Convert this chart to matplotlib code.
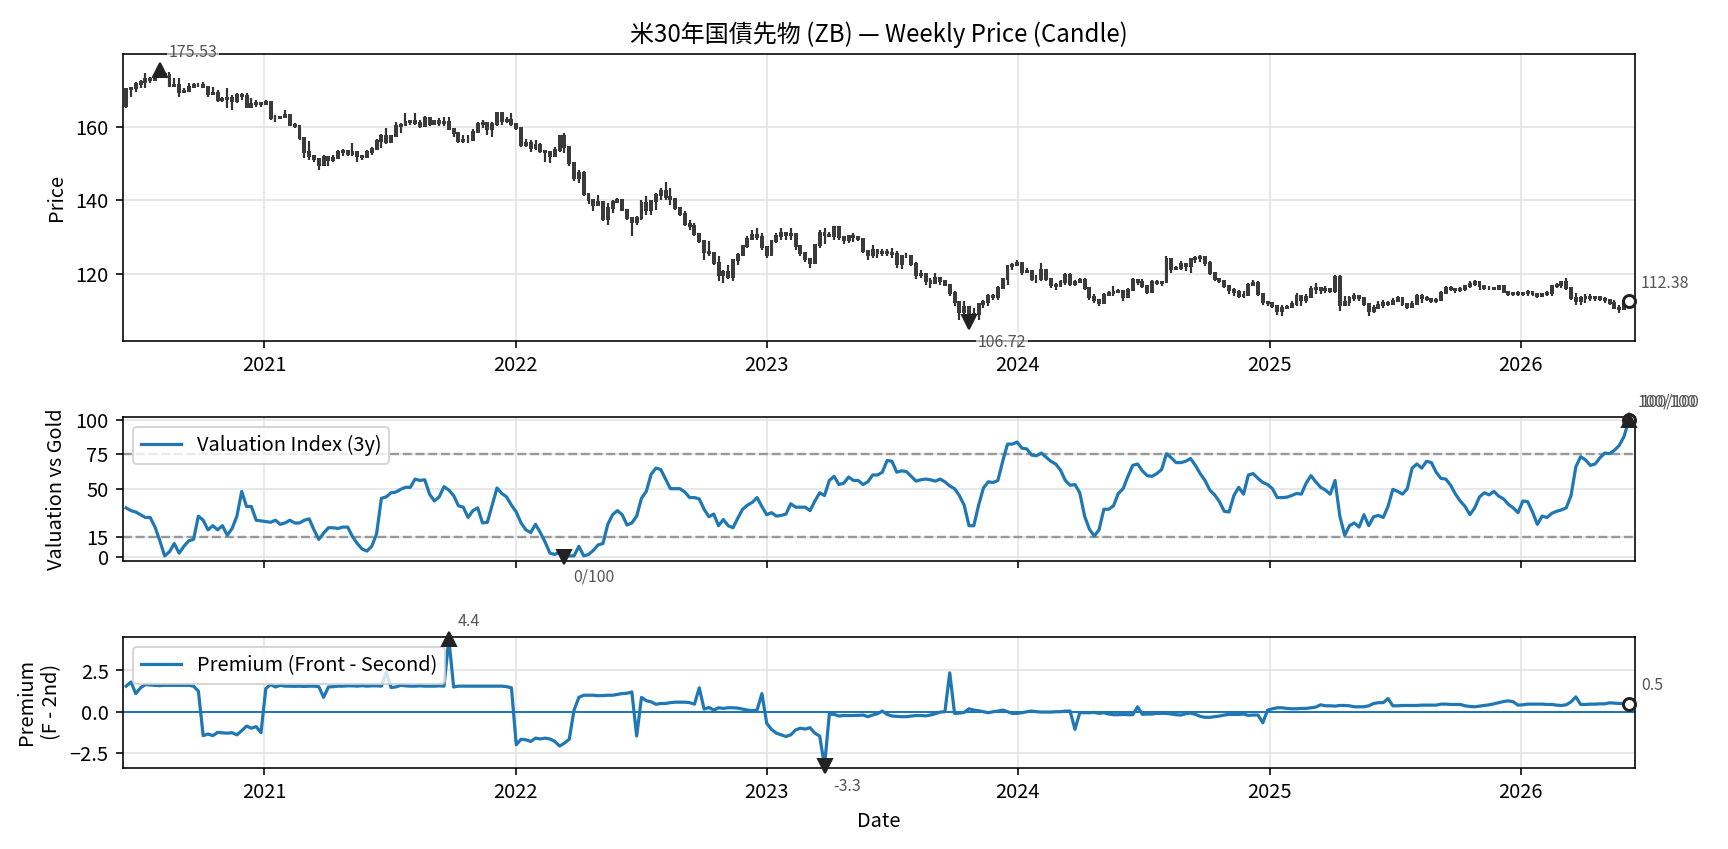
import numpy as np
import pandas as pd
import matplotlib
matplotlib.use('Agg')
import matplotlib.pyplot as plt
import matplotlib.dates as mdates

plt.rcParams['font.family'] = ['Noto Sans CJK JP', 'DejaVu Sans']
plt.rcParams['font.size'] = 10

# weekly ZB candles, open of week = previous close
first_open = 165.8
closes = [
    170.3, 170.6, 171.8, 172.3, 173.2, 173.0, 174.0, 174.6, 174.2, 171.3,
    171.4, 169.5, 170.0, 171.0, 171.4, 171.6, 171.0, 169.0, 169.3, 167.4,
    167.6, 168.0, 167.2, 168.9, 168.6, 165.6, 166.4, 166.6, 166.2, 166.9,
    162.6, 162.4, 162.8, 163.3, 160.6, 160.2, 157.0, 153.3, 152.2, 151.3,
    149.8, 151.8, 151.0, 151.6, 153.2, 153.5, 152.8, 153.3, 152.0, 151.8,
    153.1, 154.0, 156.2, 157.6, 156.0, 157.6, 160.3, 160.6, 161.3, 161.6,
    161.2, 160.4, 162.6, 161.0, 161.6, 161.2, 161.4, 159.6, 158.4, 156.3,
    156.6, 156.4, 158.6, 160.8, 161.2, 159.6, 160.8, 163.8, 161.6, 162.0,
    160.8, 159.7, 155.2, 155.8, 154.2, 155.0, 153.5, 153.2, 152.0, 153.8,
    157.5, 154.5, 150.3, 146.0, 147.5, 141.8, 140.0, 138.8, 139.6, 135.0,
    137.8, 139.6, 140.2, 137.5, 135.2, 134.0, 135.2, 139.2, 137.5, 139.8,
    141.6, 142.5, 141.0, 140.5, 138.0, 136.2, 133.5, 133.0, 130.8, 129.0,
    126.0, 125.6, 123.0, 119.5, 120.5, 119.2, 123.6, 125.2, 127.5, 129.5,
    130.6, 130.0, 127.2, 125.0, 128.8, 130.2, 131.0, 130.5, 130.8, 127.5,
    125.5, 124.0, 123.0, 127.8, 131.0, 130.5, 130.4, 132.6, 130.0, 129.2,
    130.3, 130.0, 129.4, 126.2, 125.0, 126.5, 125.5, 125.8, 125.6, 125.4,
    122.5, 124.8, 124.8, 122.6, 119.5, 120.0, 117.9, 117.4, 118.8, 118.0,
    117.0, 114.6, 112.2, 109.5, 111.0, 108.5, 109.0, 111.8, 112.3, 113.9,
    113.5, 116.0, 118.5, 122.0, 122.3, 123.0, 120.5, 120.8, 118.6, 118.4,
    121.0, 118.5, 116.8, 116.5, 117.8, 119.7, 117.2, 117.6, 118.2, 116.0,
    113.6, 112.8, 112.0, 114.2, 114.6, 115.0, 115.2, 113.5, 115.6, 118.3,
    117.8, 116.6, 115.0, 117.6, 117.4, 117.8, 124.0, 121.2, 121.6, 122.5,
    122.0, 123.9, 124.2, 124.6, 122.8, 120.2, 118.6, 118.0, 116.6, 115.4,
    115.0, 114.0, 114.2, 117.0, 117.4, 114.3, 112.3, 112.1, 111.2, 109.8,
    110.6, 111.0, 111.8, 113.8, 112.8, 113.6, 115.8, 116.0, 115.5, 115.8,
    115.2, 119.0, 111.5, 112.2, 113.2, 114.0, 113.2, 111.8, 109.8, 110.6,
    111.5, 112.0, 111.6, 112.6, 113.2, 111.6, 110.8, 111.8, 113.8, 113.2,
    113.0, 112.6, 112.8, 114.8, 116.0, 115.8, 115.4, 115.9, 116.6, 117.2,
    117.6, 116.5, 116.2, 116.0, 115.8, 116.6, 115.0, 114.4, 114.6, 114.5,
    114.7, 115.0, 114.4, 114.0, 114.4, 114.6, 116.6, 117.0, 117.6, 116.0,
    113.3, 112.5, 113.2, 113.6, 113.4, 113.5, 113.0, 112.8, 112.0, 110.6,
    110.2, 111.6, 112.38,
]
highs = [
    170.6, 171.1, 172.4, 172.9, 174.7, 173.8, 174.7, 175.53, 174.7, 175.2,
    173.3, 173.3, 170.6, 172.0, 172.0, 172.2, 172.4, 171.1, 171.1, 170.2,
    168.3, 170.6, 168.8, 169.3, 169.3, 169.3, 167.9, 167.4, 167.0, 167.4,
    167.0, 163.3, 163.1, 164.7, 163.3, 161.1, 159.7, 157.0, 156.1, 152.0,
    151.5, 152.4, 151.5, 152.4, 153.8, 154.0, 153.8, 155.6, 153.4, 152.4,
    153.8, 154.5, 156.7, 158.1, 159.7, 157.9, 161.5, 161.1, 163.8, 162.0,
    163.8, 162.0, 163.1, 162.4, 162.0, 162.4, 162.9, 162.7, 159.4, 158.8,
    157.9, 157.9, 159.4, 161.5, 162.0, 160.6, 161.5, 164.2, 164.2, 162.9,
    163.8, 161.1, 160.0, 156.7, 156.5, 156.5, 155.8, 153.3, 153.3, 154.7,
    157.9, 158.3, 153.8, 150.6, 148.3, 147.9, 141.8, 139.4, 141.5, 138.8,
    139.3, 140.2, 140.6, 140.4, 137.7, 135.2, 135.6, 140.2, 141.1, 140.2,
    142.0, 143.3, 144.9, 143.3, 140.2, 137.9, 137.0, 134.7, 133.8, 131.1,
    128.8, 128.8, 125.6, 124.7, 121.1, 122.4, 124.0, 125.6, 127.9, 130.2,
    132.0, 132.4, 131.1, 127.4, 129.3, 131.1, 132.4, 131.5, 132.4, 130.2,
    127.4, 125.6, 124.3, 128.2, 132.0, 132.4, 131.3, 133.1, 132.2, 129.7,
    130.6, 131.1, 130.2, 129.4, 126.1, 127.9, 126.7, 126.7, 126.7, 127.0,
    126.1, 125.2, 125.6, 125.2, 123.1, 121.1, 119.4, 118.8, 120.2, 118.8,
    118.3, 117.0, 115.2, 112.0, 112.4, 111.0, 110.5, 112.0, 112.9, 114.3,
    114.3, 116.5, 118.8, 122.4, 122.9, 123.8, 122.9, 121.5, 121.1, 119.7,
    122.9, 120.2, 118.3, 117.4, 118.3, 120.2, 120.2, 118.3, 118.8, 118.8,
    116.1, 114.3, 112.9, 114.7, 115.2, 116.5, 115.8, 115.6, 116.1, 118.8,
    118.5, 118.5, 117.0, 118.3, 118.3, 117.9, 124.7, 123.8, 122.0, 123.4,
    122.9, 124.3, 124.9, 125.2, 123.4, 123.4, 120.2, 118.8, 117.9, 116.5,
    116.1, 115.6, 115.2, 117.4, 118.3, 117.9, 114.3, 112.0, 111.5, 111.1,
    111.3, 111.5, 112.4, 114.7, 113.8, 114.3, 116.5, 117.4, 116.1, 116.5,
    116.1, 119.7, 119.7, 113.8, 113.8, 114.7, 113.8, 112.4, 111.5, 111.5,
    112.4, 112.9, 112.4, 113.3, 113.8, 112.4, 111.5, 112.4, 114.3, 114.3,
    113.8, 113.3, 113.3, 115.2, 116.7, 116.5, 115.8, 116.3, 117.0, 117.9,
    118.3, 117.4, 116.5, 116.5, 116.3, 117.0, 116.5, 114.7, 114.9, 115.2,
    114.9, 115.6, 115.2, 114.7, 114.7, 115.2, 117.0, 117.4, 117.9, 118.8,
    116.1, 114.7, 113.8, 114.3, 114.3, 114.0, 113.6, 113.6, 112.9, 112.9,
    111.5, 112.4, 112.9,
]
lows = [
    165.2, 168.3, 169.7, 170.6, 170.6, 172.2, 172.9, 173.5, 173.8, 171.1,
    171.1, 168.3, 169.3, 170.2, 171.1, 171.1, 170.6, 168.3, 168.8, 167.0,
    167.0, 165.2, 164.7, 166.5, 167.4, 165.2, 165.2, 165.6, 165.6, 166.1,
    162.0, 161.5, 162.2, 162.4, 160.2, 159.7, 156.5, 151.5, 151.1, 150.6,
    148.3, 149.7, 149.3, 150.6, 151.5, 152.0, 152.0, 152.0, 150.6, 151.1,
    152.4, 152.4, 154.3, 154.3, 155.4, 155.6, 157.4, 158.3, 160.6, 160.6,
    160.6, 159.7, 161.5, 160.2, 161.1, 160.2, 160.3, 159.3, 157.3, 155.6,
    155.6, 155.6, 156.1, 158.8, 159.7, 157.9, 157.4, 160.2, 160.6, 161.1,
    160.2, 159.3, 154.7, 154.7, 153.1, 153.8, 152.9, 150.6, 150.3, 151.8,
    153.3, 152.9, 149.3, 145.2, 144.7, 141.1, 139.1, 137.0, 138.4, 134.3,
    133.4, 136.5, 139.7, 137.0, 134.7, 130.2, 133.4, 134.7, 136.1, 136.1,
    137.4, 140.2, 140.0, 138.8, 137.4, 135.6, 132.9, 132.0, 130.2, 128.3,
    123.8, 124.7, 122.4, 117.9, 117.4, 118.4, 117.9, 122.4, 124.9, 127.0,
    129.3, 129.3, 126.5, 124.3, 125.2, 128.3, 129.3, 129.3, 129.3, 126.5,
    124.7, 123.3, 121.5, 123.3, 127.0, 128.2, 130.2, 129.3, 129.3, 128.2,
    128.3, 128.5, 128.8, 125.6, 123.8, 124.3, 124.3, 124.7, 124.7, 124.3,
    121.5, 121.3, 124.3, 122.0, 118.4, 118.8, 117.0, 116.1, 117.9, 117.0,
    116.5, 113.8, 111.1, 107.4, 108.3, 106.72, 107.5, 107.4, 110.6, 111.1,
    112.9, 112.9, 116.5, 117.0, 121.1, 122.0, 119.7, 120.2, 117.9, 117.4,
    117.9, 117.9, 116.1, 115.6, 116.5, 117.0, 116.5, 116.5, 117.4, 115.6,
    112.9, 112.0, 111.1, 112.0, 113.8, 113.8, 114.7, 112.4, 113.8, 115.6,
    117.0, 116.1, 114.3, 116.1, 117.0, 116.5, 117.4, 120.2, 121.1, 121.1,
    120.6, 120.2, 122.9, 123.3, 122.0, 119.7, 117.9, 117.4, 116.1, 114.3,
    113.8, 113.3, 113.3, 114.7, 116.5, 113.8, 111.5, 111.1, 110.6, 108.8,
    108.3, 110.6, 111.1, 111.1, 111.1, 112.0, 113.3, 114.3, 114.3, 114.7,
    114.7, 114.7, 109.7, 111.1, 111.1, 112.4, 112.4, 111.1, 108.3, 109.3,
    110.2, 110.6, 111.1, 111.5, 112.4, 111.1, 110.2, 111.1, 112.4, 112.0,
    112.4, 112.0, 112.0, 112.4, 115.2, 115.2, 114.7, 114.9, 115.2, 116.1,
    116.5, 115.6, 115.6, 115.4, 115.4, 116.1, 114.7, 113.8, 114.0, 113.8,
    114.0, 114.0, 113.8, 113.3, 113.8, 113.8, 113.8, 116.1, 116.1, 115.6,
    112.9, 111.5, 111.5, 112.0, 112.4, 112.4, 112.4, 112.0, 111.5, 110.2,
    109.3, 111.1, 111.5,
]

# valuation index vs gold (0-100, 3y window)
valuation = [
    36, 34, 33, 31, 29, 29, 22, 12, 1, 4,
    10, 3, 8, 12, 13, 30, 27, 20, 23, 20,
    23, 16, 21, 30, 48, 37, 37, 27, 26.5, 26,
    25.5, 27, 24, 25, 27, 25, 25, 27, 28, 20,
    13, 17.5, 21.5, 21.5, 21, 22, 22, 15, 10, 6,
    4.5, 8, 17, 43, 44, 47, 47.5, 49.5, 51, 51,
    57, 56, 56.5, 46, 41, 44, 51.5, 49, 45, 37.5,
    36.5, 29, 34, 36, 25, 25.5, 38, 50.5, 46.5, 44,
    38, 33, 25, 20, 18, 24, 18, 11, 3, 2,
    4, 0, 1, 1, 8, 1, 2, 5, 9, 10,
    24, 31, 34, 31, 23.5, 25, 30, 43, 48, 60.5,
    65, 64, 57, 50, 50, 50, 47.5, 43.5, 43.5, 42.5,
    35, 29.5, 31.5, 23, 27.5, 23, 21.5, 28.5, 35, 38,
    40, 43.5, 37, 31, 32.5, 30, 30.5, 31.5, 39, 36.5,
    36.5, 36.5, 34, 41, 47, 45, 56, 59, 53, 54,
    58.5, 56, 56, 53, 55, 60, 60, 62, 70.5, 70,
    62, 63, 62.5, 59, 55.5, 56.5, 57, 56.5, 55.5, 57,
    55, 52, 50, 45, 38, 23, 23, 38, 50.5, 55,
    54.5, 56, 70, 82.5, 82.5, 84, 79.5, 79, 74.5, 74,
    76, 73, 70, 68, 63.5, 56, 52.5, 53, 47, 30,
    20.5, 15.5, 20, 35, 35, 37.5, 46.5, 50, 59, 67,
    68, 63, 59.5, 59, 61, 64, 75.5, 72.5, 69, 69,
    70, 72, 67, 61, 56, 49, 45.5, 40.5, 33.5, 33,
    45, 51, 46, 60, 61, 57.5, 54.5, 53, 50, 43.5,
    43.5, 43.8, 45, 46.5, 46, 54, 59.5, 55, 51, 49,
    46, 56, 30, 16, 23, 25, 22, 31, 23, 29.5,
    30.5, 29, 37, 49.5, 48, 46, 50, 65, 68, 65,
    70, 69, 62, 57.5, 57, 52.5, 46, 41, 37, 31,
    36, 44, 47, 45.5, 48, 44.5, 42.5, 38.5, 36, 32.5,
    41, 40.5, 33, 24, 30, 29, 32, 33.5, 34.5, 36,
    45, 66, 73.3, 71, 67, 68, 72.5, 76, 75.5, 78,
    81.5, 88, 100,
]

# front - second month premium
premium = [
    1.55, 1.8, 1.1, 1.45, 1.65, 1.62, 1.6, 1.58, 1.6, 1.6,
    1.6, 1.6, 1.6, 1.6, 1.55, 1.25, -1.45, -1.35, -1.45, -1.25,
    -1.28, -1.3, -1.27, -1.4, -1.15, -0.87, -1.0, -0.9, -1.27, 1.4,
    1.65, 1.5, 1.6, 1.55, 1.55, 1.54, 1.55, 1.53, 1.55, 1.55,
    1.52, 0.87, 1.5, 1.52, 1.55, 1.55, 1.57, 1.57, 1.55, 1.58,
    1.55, 1.57, 1.57, 1.55, 2.4, 1.47, 1.5, 1.6, 1.57, 1.55,
    1.55, 1.57, 1.55, 1.55, 1.55, 1.57, 1.55, 4.4, 1.5, 1.55,
    1.55, 1.55, 1.55, 1.55, 1.55, 1.55, 1.55, 1.55, 1.55, 1.52,
    1.45, -2.0, -1.67, -1.7, -1.8, -1.6, -1.65, -1.6, -1.65, -1.8,
    -2.08, -1.9, -1.67, 0.1, 0.87, 1.0, 1.0, 1.0, 0.97, 0.98,
    1.0, 1.0, 1.05, 1.1, 1.12, 1.2, -1.47, 0.87, 0.67, 0.6,
    0.45, 0.5, 0.5, 0.55, 0.58, 0.58, 0.58, 0.55, 0.46, 1.45,
    0.16, 0.26, 0.1, 0.24, 0.2, 0.24, 0.24, 0.22, 0.16, 0.1,
    0.06, 0.1, 1.1, -0.7, -1.07, -1.3, -1.4, -1.5, -1.4, -1.1,
    -1.0, -1.05, -0.97, -1.3, -1.47, -3.3, -0.14, -0.16, -0.26, -0.23,
    -0.23, -0.23, -0.22, -0.2, -0.3, -0.2, -0.12, 0.04, -0.16, -0.26,
    -0.28, -0.3, -0.3, -0.26, -0.23, -0.23, -0.25, -0.2, -0.12, -0.02,
    0.0, 2.36, -0.1, -0.08, -0.04, 0.18, 0.1, 0.06, 0.0, -0.06,
    0.0, 0.04, 0.1, 0.0, -0.1, -0.1, -0.06, 0.0, 0.04, 0.0,
    -0.02, -0.02, -0.02, 0.0, 0.0, 0.04, 0.04, -1.07, -0.06, -0.06,
    -0.06, -0.04, -0.1, -0.06, -0.14, -0.18, -0.18, -0.16, -0.18, -0.18,
    0.3, -0.16, -0.14, -0.14, -0.1, -0.1, -0.1, -0.14, -0.18, -0.2,
    -0.12, -0.08, -0.16, -0.28, -0.34, -0.34, -0.3, -0.26, -0.2, -0.16,
    -0.16, -0.16, -0.14, -0.22, -0.2, -0.2, -0.67, 0.1, 0.18, 0.24,
    0.24, 0.2, 0.18, 0.18, 0.2, 0.2, 0.24, 0.28, 0.42, 0.36,
    0.36, 0.34, 0.38, 0.38, 0.36, 0.3, 0.3, 0.3, 0.36, 0.5,
    0.55, 0.55, 0.8, 0.36, 0.36, 0.38, 0.38, 0.38, 0.38, 0.4,
    0.4, 0.4, 0.4, 0.46, 0.46, 0.44, 0.44, 0.44, 0.36, 0.32,
    0.3, 0.34, 0.38, 0.42, 0.48, 0.55, 0.62, 0.66, 0.6, 0.4,
    0.42, 0.46, 0.46, 0.46, 0.46, 0.44, 0.44, 0.4, 0.38, 0.42,
    0.6, 0.9, 0.44, 0.44, 0.46, 0.46, 0.48, 0.48, 0.54, 0.52,
    0.5, 0.5, 0.48,
]

dates = pd.date_range('2020-06-14', periods=len(closes), freq='W-SUN')
opens = [first_open] + closes[:-1]

line_color = '#1f77b4'
mark_color = '#222222'
note_color = '#555555'


def mark_point(ax, x, y, text, marker, dy, dx=4.5):
    ax.plot([x], [y], marker=marker, color=mark_color, markersize=7, zorder=6, clip_on=False)
    ax.annotate(text, (x, y), xytext=(dx, dy), textcoords='offset points',
                fontsize=8, color=note_color, ha='left', va='center', zorder=7,
                bbox=dict(boxstyle='square,pad=0.1', fc='white', ec='none', alpha=0.6),
                annotation_clip=False)


def mark_last(ax, x, y, text):
    ax.plot([x], [y], marker='o', markersize=6, mfc='white', mec=mark_color, mew=1.5,
            zorder=5, clip_on=False)
    ax.annotate(text, (x, y), xytext=(6, 9), textcoords='offset points', zorder=8,
                fontsize=8, color=note_color, ha='left', va='center', annotation_clip=False)


fig = plt.figure(figsize=(12, 5.896), dpi=144)
ax1 = fig.add_axes([0.0710, 0.5984, 0.8752, 0.3380])
ax2 = fig.add_axes([0.0710, 0.3396, 0.8752, 0.1696], sharex=ax1)
ax3 = fig.add_axes([0.0710, 0.0956, 0.8752, 0.1545], sharex=ax1)

# --- candles
o = np.array(opens)
c = np.array(closes)
colors = np.where(c >= o, '#26a69a', '#ef5350')
ax1.vlines(dates, lows, highs, color='#333333', linewidth=1.1, zorder=3)
ax1.bar(dates, np.abs(c - o), bottom=np.minimum(o, c), width=2.8, color=colors,
        edgecolor='#3a3a3a', linewidth=1.0, zorder=4)
i_hi = int(np.argmax(highs))
i_lo = int(np.argmin(lows))
mark_point(ax1, dates[i_hi], highs[i_hi], f'{highs[i_hi]:.2f}', '^', 9)
mark_point(ax1, dates[i_lo], lows[i_lo], f'{lows[i_lo]:.2f}', 'v', -10)
mark_last(ax1, dates[-1], closes[-1], f'{closes[-1]:.2f}')
ax1.set_ylim(101.6, 180)
ax1.set_yticks([120, 140, 160])
ax1.set_ylabel('Price')
ax1.set_title('米30年国債先物 (ZB) — Weekly Price (Candle)', fontsize=12)

# --- valuation
ax2.plot(dates, valuation, color=line_color, linewidth=1.6, label='Valuation Index (3y)', zorder=3)
ax2.axhline(75, color='#999999', linestyle='--', linewidth=1.2)
ax2.axhline(15, color='#999999', linestyle='--', linewidth=1.2)
i_vmax = int(np.argmax(valuation))
i_vmin = int(np.argmin(valuation))
mark_last(ax2, dates[-1], valuation[-1], f'{valuation[-1]:.0f}/100')
mark_point(ax2, dates[i_vmax], valuation[i_vmax], f'{valuation[i_vmax]:.0f}/100', '^', 9)
mark_point(ax2, dates[i_vmin], valuation[i_vmin], f'{valuation[i_vmin]:.0f}/100', 'v', -10)
ax2.set_ylim(-2.5, 102.5)
ax2.set_yticks([0, 15, 50, 75, 100])
ax2.set_ylabel('Valuation vs Gold')
ax2.legend(loc='upper left', framealpha=0.8)
plt.setp(ax2.get_xticklabels(), visible=False)

# --- premium
ax3.plot(dates, premium, color=line_color, linewidth=1.6, label='Premium (Front - Second)', zorder=3)
ax3.axhline(0, color=line_color, linewidth=1.0)
i_pmax = int(np.argmax(premium))
i_pmin = int(np.argmin(premium))
mark_point(ax3, dates[i_pmax], premium[i_pmax], f'{premium[i_pmax]:.1f}', '^', 9)
mark_point(ax3, dates[i_pmin], premium[i_pmin], f'{premium[i_pmin]:.1f}', 'v', -10)
mark_last(ax3, dates[-1], premium[-1], f'{premium[-1]:.1f}')
ax3.set_ylim(-3.4, 4.55)
ax3.set_yticks([-2.5, 0, 2.5])
ax3.set_ylabel('Premium\n(F - 2nd)')
ax3.set_xlabel('Date')
ax3.legend(loc='upper left', framealpha=0.8)

for ax in (ax1, ax2, ax3):
    ax.grid(True, color='#e3e3e3', linewidth=0.8)
    ax.set_axisbelow(True)
    ax.xaxis.set_major_locator(mdates.YearLocator())
    ax.xaxis.set_major_formatter(mdates.DateFormatter('%Y'))

ax1.set_xlim(pd.Timestamp('2020-06-09'), pd.Timestamp('2026-06-16'))

fig.savefig('out.png', dpi=144)
